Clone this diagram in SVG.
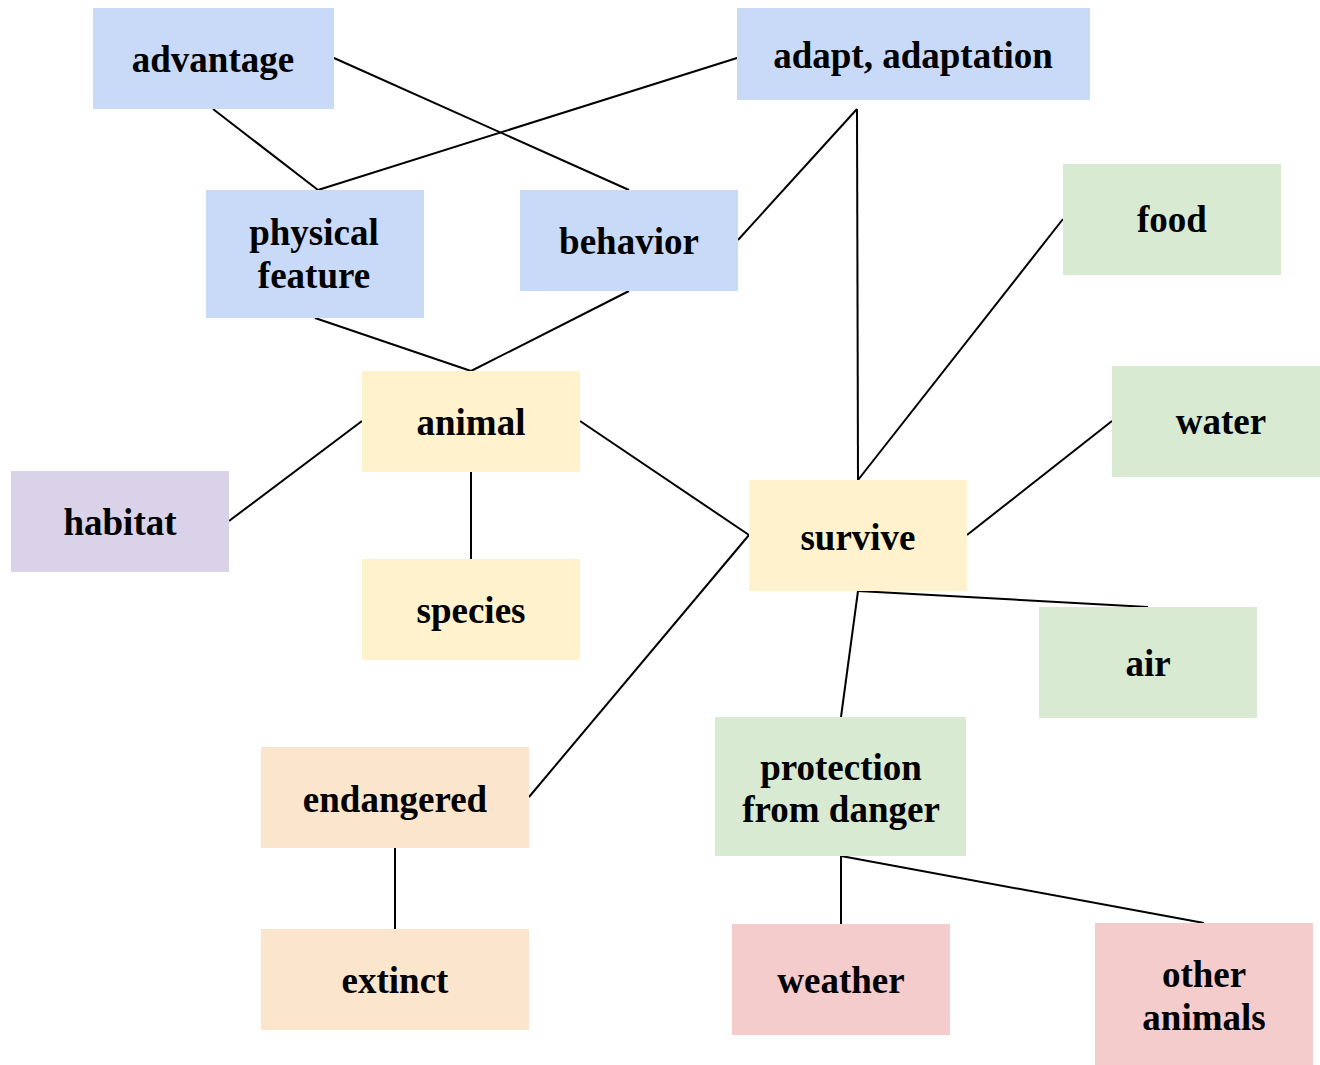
<svg xmlns="http://www.w3.org/2000/svg" width="1320" height="1065" viewBox="0 0 1320 1065">
<style>
text{font-family:"Liberation Serif","Times New Roman",serif;font-weight:bold;font-size:37px;fill:#000;text-anchor:middle}
.b{fill:#c9daf8}.g{fill:#d9ead3}.y{fill:#fff2cc}.p{fill:#d9d2e9}.o{fill:#fce5cd}.r{fill:#f4cccc}
#edges line{stroke:#000;stroke-width:2}
</style>
<rect width="1320" height="1065" fill="#fff"/>
<g id="edges">
<line x1="334" y1="58" x2="629" y2="190"/>
<line x1="213" y1="109" x2="318" y2="190"/>
<line x1="737" y1="58" x2="318" y2="190"/>
<line x1="857" y1="109" x2="738" y2="240"/>
<line x1="857" y1="109" x2="858" y2="480"/>
<line x1="315" y1="318" x2="471" y2="371"/>
<line x1="629" y1="291" x2="471" y2="371"/>
<line x1="1063" y1="219" x2="858" y2="480"/>
<line x1="1112" y1="421" x2="967" y2="535"/>
<line x1="362" y1="421" x2="229" y2="521"/>
<line x1="580" y1="421" x2="749" y2="535"/>
<line x1="471" y1="472" x2="471" y2="559"/>
<line x1="749" y1="535" x2="529" y2="797"/>
<line x1="858" y1="591" x2="1148" y2="607"/>
<line x1="858" y1="591" x2="841" y2="717"/>
<line x1="841" y1="856" x2="841" y2="924"/>
<line x1="841" y1="856" x2="1204" y2="923"/>
<line x1="395" y1="848" x2="395" y2="929"/>
</g>
<g id="advantage"><rect class="b" x="93" y="8" width="241" height="101"/><text x="213" y="72">advantage</text></g>
<g id="adapt"><rect class="b" x="737" y="8" width="353" height="92"/><text x="913" y="68">adapt, adaptation</text></g>
<g id="physical"><rect class="b" x="206" y="190" width="218" height="128"/><text x="314" y="245">physical</text><text x="314" y="288">feature</text></g>
<g id="behavior"><rect class="b" x="520" y="190" width="218" height="101"/><text x="629" y="254">behavior</text></g>
<g id="food"><rect class="g" x="1063" y="164" width="218" height="111"/><text x="1172" y="232">food</text></g>
<g id="water"><rect class="g" x="1112" y="366" width="208" height="111"/><text x="1221" y="434">water</text></g>
<g id="animal"><rect class="y" x="362" y="371" width="218" height="101"/><text x="471" y="435">animal</text></g>
<g id="habitat"><rect class="p" x="11" y="471" width="218" height="101"/><text x="120" y="535">habitat</text></g>
<g id="species"><rect class="y" x="362" y="559" width="218" height="101"/><text x="471" y="623">species</text></g>
<g id="survive"><rect class="y" x="749" y="480" width="218" height="111"/><text x="858" y="550">survive</text></g>
<g id="air"><rect class="g" x="1039" y="607" width="218" height="111"/><text x="1148" y="676">air</text></g>
<g id="protection"><rect class="g" x="715" y="717" width="251" height="139"/><text x="841" y="780">protection</text><text x="841" y="822">from danger</text></g>
<g id="endangered"><rect class="o" x="261" y="747" width="268" height="101"/><text x="395" y="812">endangered</text></g>
<g id="extinct"><rect class="o" x="261" y="929" width="268" height="101"/><text x="395" y="993">extinct</text></g>
<g id="weather"><rect class="r" x="732" y="924" width="218" height="111"/><text x="841" y="993">weather</text></g>
<g id="other"><rect class="r" x="1095" y="923" width="218" height="142"/><text x="1204" y="987">other</text><text x="1204" y="1030">animals</text></g>
</svg>
